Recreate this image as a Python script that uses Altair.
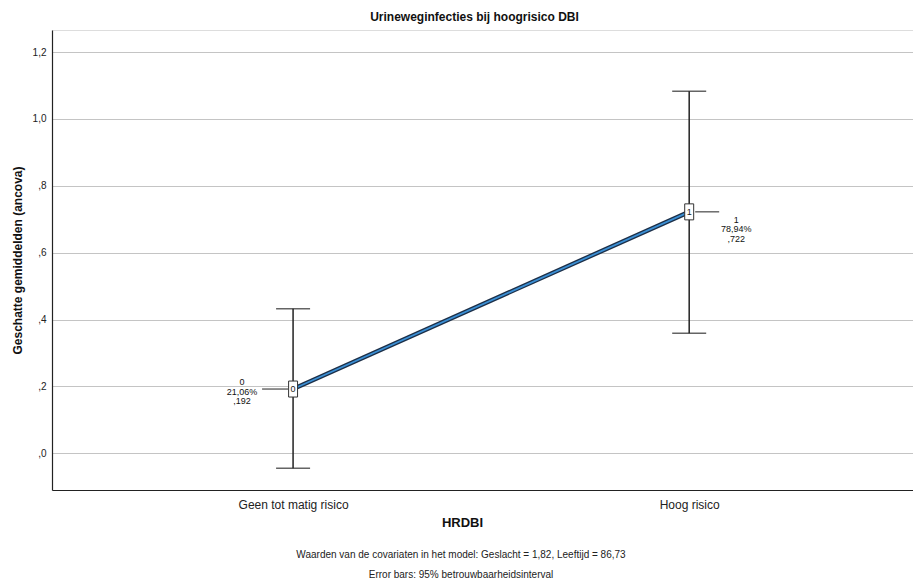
import altair as alt
import pandas as pd

categories = ["Geen tot matig risico", "Hoog risico"]
codes = [0, 1]
means = [0.192, 0.722]
lower = [-0.045, 0.359]
upper = [0.432, 1.083]
percents = ["21,06%", "78,94%"]
mean_labels = [",192", ",722"]
y_ticks = [0.0, 0.2, 0.4, 0.6, 0.8, 1.0, 1.2]

df = pd.DataFrame({
    "code": codes,
    "cat": categories,
    "mean": means,
    "lo": lower,
    "hi": upper,
    "code_txt": [str(c) for c in codes],
    "label": [f"{c}\n{p}\n{m}" for c, p, m in zip(codes, percents, mean_labels)],
})

FONT = "Liberation Sans"
xscale = alt.Scale(domain=[-0.6086, 1.565], nice=False, zero=False)
yscale = alt.Scale(domain=[-0.11, 1.266], nice=False, zero=False)

ylabel_expr = ("datum.value >= 1 ? replace(format(datum.value, '.1f'), '.', ',') : "
               "replace(format(datum.value, '.1f'), '0.', ',')")
xlabel_expr = "datum.value == 0 ? '" + categories[0] + "' : '" + categories[1] + "'"

X = alt.X("code:Q", scale=xscale,
          axis=alt.Axis(values=codes, labelExpr=xlabel_expr, grid=False, ticks=False,
                        domain=True, domainColor="#222222", domainWidth=1.2,
                        labelFontSize=12, labelFont=FONT, labelColor="#222222", labelPadding=9,
                        title="HRDBI", titleFont=FONT, titleFontSize=13, titleFontWeight="bold",
                        titleColor="#111111", titleX=410, titleY=32, titleBaseline="middle",
                        titleAlign="center"))
Y = alt.Y("mean:Q", scale=yscale,
          axis=alt.Axis(values=y_ticks, labelExpr=ylabel_expr, grid=True, gridColor="#c4c4c4",
                        gridWidth=1, ticks=False, domain=True, domainColor="#222222", domainWidth=1.2,
                        labelFontSize=10, labelFont=FONT, labelColor="#222222", labelPadding=6,
                        title="Geschatte gemiddelden (ancova)", titleFont=FONT, titleFontSize=12,
                        titleFontWeight="bold", titleColor="#111111", titlePadding=8))

base = alt.Chart(df)

rules = base.mark_rule(color="#222222", strokeWidth=1.5).encode(
    x=X, y=alt.Y("lo:Q", scale=yscale), y2="hi:Q")
caps_hi = base.mark_tick(color="#222222", thickness=1.5, size=34, orient="horizontal").encode(
    x=X, y=alt.Y("hi:Q", scale=yscale))
caps_lo = base.mark_tick(color="#222222", thickness=1.5, size=34, orient="horizontal").encode(
    x=X, y=alt.Y("lo:Q", scale=yscale))

line_outer = base.mark_line(color="#1c2f48", strokeWidth=4.5).encode(x=X, y=Y)
line_inner = base.mark_line(color="#3b8fd4", strokeWidth=1.8).encode(x=X, y=Y)

box_shape = "M-0.56,-1L0.56,-1L0.56,1L-0.56,1Z"
boxes = base.mark_point(shape=box_shape, size=256, filled=True, fill="white",
                        stroke="#333333", strokeWidth=1, opacity=1).encode(x=X, y=Y)
box_txt = base.mark_text(font=FONT, fontSize=9, color="#222222", baseline="middle").encode(
    x=X, y=Y, text="code_txt:N")

d0 = base.transform_filter("datum.code == 0")
d1 = base.transform_filter("datum.code == 1")

lead0 = d0.mark_rule(color="#222222", strokeWidth=1, xOffset=-31, x2Offset=-5).encode(
    x=X, x2="code:Q", y=Y)
lead1 = d1.mark_rule(color="#222222", strokeWidth=1, xOffset=6, x2Offset=30).encode(
    x=X, x2="code:Q", y=Y)

lab0 = d0.mark_text(font=FONT, fontSize=9, lineHeight=9.5, lineBreak="\n", align="center",
                    baseline="middle", dx=-51, dy=-7, color="#111111").encode(
    x=X, y=Y, text="label:N")
lab1 = d1.mark_text(font=FONT, fontSize=9, lineHeight=9.5, lineBreak="\n", align="center",
                    baseline="middle", dx=47, dy=8, color="#111111").encode(
    x=X, y=Y, text="label:N")

notes = alt.Chart(pd.DataFrame({"t": ["Waarden van de covariaten in het model: Geslacht = 1,82, Leeftijd = 86,73"]})).mark_text(
    font=FONT, fontSize=10, color="#222222", align="center", baseline="middle").encode(
    x=alt.value(409), y=alt.value(525), text="t:N")
notes2 = alt.Chart(pd.DataFrame({"t": ["Error bars: 95% betrouwbaarheidsinterval"]})).mark_text(
    font=FONT, fontSize=10, color="#222222", align="center", baseline="middle").encode(
    x=alt.value(409), y=alt.value(545), text="t:N")

chart = alt.layer(
    rules, caps_hi, caps_lo, line_outer, line_inner, lead0, lead1, boxes, box_txt, lab0, lab1, notes, notes2
).properties(
    width=861, height=460,
    title=alt.TitleParams("Urineweginfecties bij hoogrisico DBI", font=FONT, fontSize=12,
                          fontWeight="bold", color="#111111", anchor="middle", offset=6, dx=-8),
    autosize=alt.AutoSizeParams(type="none"),
    padding={"left": 44, "top": 22, "right": 0, "bottom": 90},
).configure_view(stroke=None).configure(background="white")

chart.save("out.html", embed_options={"renderer": "svg", "actions": False})
